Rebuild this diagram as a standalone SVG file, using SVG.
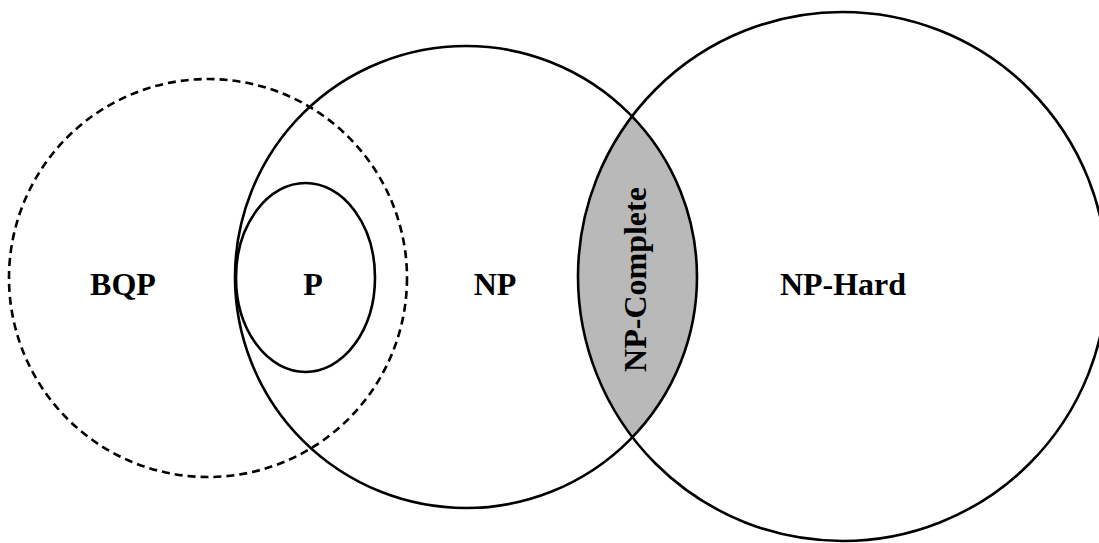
<svg xmlns="http://www.w3.org/2000/svg" width="1099" height="543" viewBox="0 0 1099 543">
<style>
.c{fill:none;stroke:#000;stroke-width:2.6}
.d{fill:none;stroke:#000;stroke-width:2.6;stroke-dasharray:8 5}
.t{font-family:"Liberation Serif","Times New Roman",serif;font-weight:bold;font-size:32px;fill:#000;text-anchor:middle}
</style>
<rect width="1099" height="543" fill="#fff"/>
<g id="np-complete">
<path d="M632.2 116.6 A231 231 0 0 1 632.2 437.4 A264.5 264.5 0 0 1 632.2 116.6 Z" fill="#b9b9b9" stroke="none"/>
<text class="t" transform="translate(646,279.5) rotate(-90)">NP-Complete</text>
</g>
<g id="bqp">
<circle class="d" cx="208" cy="278" r="199"/>
<text class="t" x="123" y="295">BQP</text>
</g>
<g id="np">
<circle class="c" cx="466" cy="277" r="231"/>
<text class="t" x="495" y="295">NP</text>
</g>
<g id="p">
<ellipse class="c" cx="305.5" cy="277.5" rx="69.5" ry="94.5"/>
<text class="t" x="313" y="295">P</text>
</g>
<g id="np-hard">
<circle class="c" cx="842.5" cy="276.5" r="264.5"/>
<text class="t" x="843" y="295">NP-Hard</text>
</g>
<g id="connectors"></g>
</svg>
